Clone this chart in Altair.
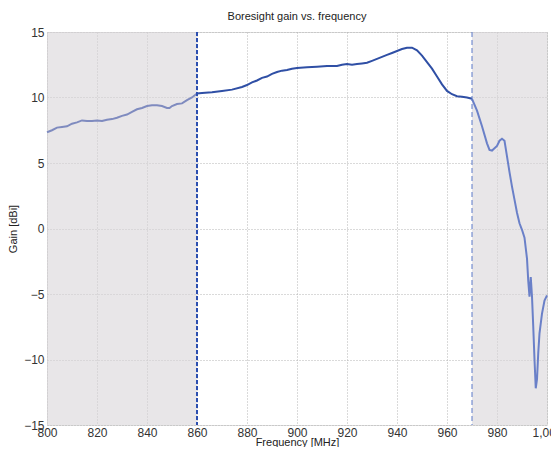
import altair as alt
import pandas as pd

# Below-band segment (800-860 MHz)
f_low = [800, 802, 804, 806, 808, 810, 812, 814, 816, 818, 820, 822, 824, 826, 828, 830, 832, 834, 836, 838,
         840, 842, 844, 846, 848, 849, 850, 852, 854, 856, 858, 860]
g_low = [7.35, 7.5, 7.7, 7.75, 7.8, 8.0, 8.1, 8.25, 8.2, 8.2, 8.25, 8.2, 8.3, 8.35, 8.45, 8.6, 8.7, 8.9, 9.1, 9.2,
         9.35, 9.4, 9.4, 9.35, 9.2, 9.2, 9.35, 9.5, 9.55, 9.8, 10.0, 10.3]

# In-band segment (860-970 MHz)
f_mid = [860, 862, 866, 870, 874, 878, 880, 882, 884, 886, 888, 890, 892, 894, 896, 898, 900, 904, 908, 912,
         916, 918, 920, 922, 924, 926, 928, 930, 932, 934, 936, 938, 940, 942, 944, 946, 948, 950, 952, 954,
         956, 958, 960, 962, 964, 966, 968, 970]
g_mid = [10.3, 10.35, 10.4, 10.5, 10.6, 10.8, 10.95, 11.15, 11.3, 11.5, 11.6, 11.8, 11.95, 12.05, 12.1, 12.2,
         12.25, 12.3, 12.35, 12.4, 12.4, 12.5, 12.55, 12.5, 12.55, 12.6, 12.65, 12.8, 12.95, 13.1, 13.25, 13.4,
         13.55, 13.7, 13.8, 13.8, 13.6, 13.2, 12.7, 12.2, 11.6, 11.0, 10.5, 10.25, 10.1, 10.05, 10.0, 9.9]

# Above-band segment (970-1000 MHz)
f_high = [970, 972, 974, 976, 977, 978, 980, 981, 982, 983, 984, 985, 986, 987, 988, 989, 990, 991, 992,
          992.5, 993, 993.5, 994, 994.5, 995, 995.5, 996, 996.5, 997, 998, 999, 1000]
g_high = [9.9, 9.0, 7.8, 6.5, 6.0, 5.95, 6.3, 6.7, 6.85, 6.7, 5.5, 4.3, 3.2, 2.2, 1.2, 0.4, -0.1, -0.7, -2.3,
          -4.0, -5.2, -3.7, -5.2, -7.5, -10.0, -12.2, -11.5, -9.5, -8.0, -6.5, -5.5, -5.1]

band_start = [800, 970]
band_end = [860, 1000]
markers = [860, 970]

x_ticks = [800, 820, 840, 860, 880, 900, 920, 940, 960, 980, 1000]
y_ticks = [-15, -10, -5, 0, 5, 10, 15]

seg = pd.concat([
    pd.DataFrame({"f": f_low, "g": g_low, "seg": "low"}),
    pd.DataFrame({"f": f_mid, "g": g_mid, "seg": "mid"}),
    pd.DataFrame({"f": f_high, "g": g_high, "seg": "high"}),
])

xs = alt.Scale(domain=[800, 1000], nice=False, zero=False)
ys = alt.Scale(domain=[-15, 15], nice=False, zero=False)

xaxis = alt.Axis(values=x_ticks, title="Frequency [MHz]", grid=True, gridDash=[1, 2], gridColor="#b5b5b5",
                 ticks=False, labelFontSize=12, labelColor="#333333", titleFontSize=11,
                 titleFontWeight="normal", titleColor="#222222", titlePadding=-2, labelPadding=2,
                 domain=False, labelFlush=False, labelOverlap=False)
yaxis = alt.Axis(values=y_ticks, title="Gain [dBi]", grid=True, gridDash=[1, 2], gridColor="#b5b5b5",
                 ticks=False, labelFontSize=12, labelColor="#333333", titleFontSize=11,
                 titleFontWeight="normal", titleColor="#222222", titlePadding=5, labelPadding=3,
                 domain=False, labelOverlap=False)

shade = alt.Chart(pd.DataFrame({"a": band_start, "b": band_end})).mark_rect(
    color="#d9d5d9", opacity=0.6
).encode(x=alt.X("a:Q", scale=xs, axis=xaxis), x2="b:Q")

line_low = alt.Chart(seg[seg.seg == "low"]).mark_line(color="#7f8bbf", strokeWidth=2).encode(
    x=alt.X("f:Q", scale=xs), y=alt.Y("g:Q", scale=ys, axis=yaxis))
line_mid = alt.Chart(seg[seg.seg == "mid"]).mark_line(color="#2f4fa5", strokeWidth=2).encode(
    x=alt.X("f:Q", scale=xs), y=alt.Y("g:Q", scale=ys))
line_high = alt.Chart(seg[seg.seg == "high"]).mark_line(color="#6a80c8", strokeWidth=2).encode(
    x=alt.X("f:Q", scale=xs), y=alt.Y("g:Q", scale=ys))

rule1 = alt.Chart(pd.DataFrame({"m": [markers[0]]})).mark_rule(
    color="#2c4fb0", strokeWidth=2, strokeDash=[4, 2]).encode(x=alt.X("m:Q", scale=xs))
rule2 = alt.Chart(pd.DataFrame({"m": [markers[1]]})).mark_rule(
    color="#5a78c8", strokeWidth=1, strokeDash=[5, 3]).encode(x=alt.X("m:Q", scale=xs))

chart = alt.layer(shade, line_low, line_mid, line_high, rule1, rule2).properties(
    width=500, height=393,
    title=alt.TitleParams("Boresight gain vs. frequency", fontSize=11, fontWeight="normal",
                          color="#222222", offset=4),
    autosize=alt.AutoSizeParams(type="none"),
    padding={"left": 39, "top": 24, "right": 4, "bottom": 22},
).configure_view(stroke="#999999", strokeWidth=1).configure(font="Liberation Sans")

chart.save("out.html", embed_options={"renderer": "svg", "actions": False})
